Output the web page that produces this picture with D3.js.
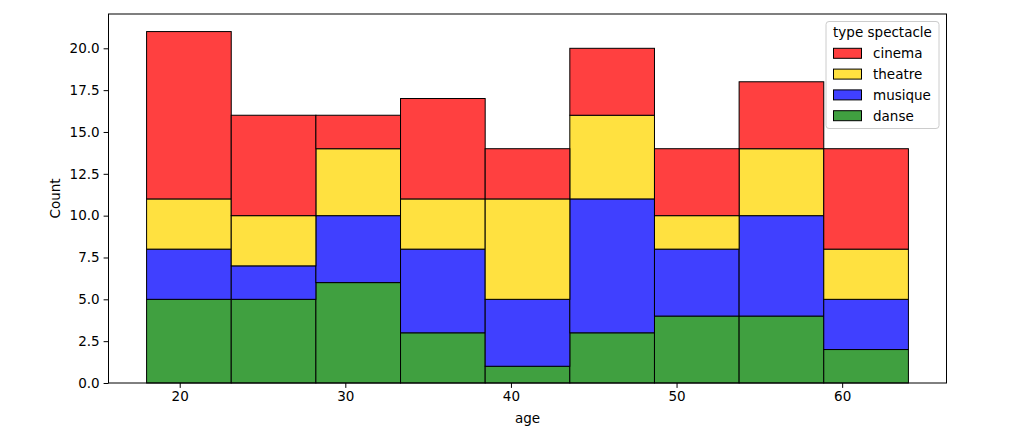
<!DOCTYPE html>
<html><head><meta charset="utf-8">
<script src="https://cdn.jsdelivr.net/npm/d3@7"></script>
<style>body{margin:0;background:#fff}svg{display:block}text{font-family:"DejaVu Sans",sans-serif;fill:#000}</style>
</head><body><svg id="c" width="1036" height="433"></svg>
<script>
const binEdges = [18, 64];
const nBins = 9;
const series = ["danse", "musique", "theatre", "cinema"];
const danse   = [5, 5, 6, 3, 1, 3, 4, 4, 2];
const musique = [3, 2, 4, 5, 4, 8, 4, 6, 3];
const theatre = [3, 3, 4, 3, 6, 5, 2, 4, 3];
const cinema  = [10, 6, 2, 6, 3, 4, 4, 4, 6];
const colors = {cinema: "#ff4040", theatre: "#ffe140", musique: "#4040ff", danse: "#40a040"};
const legendOrder = ["cinema", "theatre", "musique", "danse"];
const xTicks = [20, 30, 40, 50, 60];
const yTicks = [0, 2.5, 5, 7.5, 10, 12.5, 15, 17.5, 20];

const values = {danse, musique, theatre, cinema};
const svg = d3.select("#c");
const L = 108.5, R = 946.5, T = 14, B = 383;
const bw = (binEdges[1] - binEdges[0]) / nBins;
const span = binEdges[1] - binEdges[0];
const x = d3.scaleLinear().domain([binEdges[0] - span * 0.05, binEdges[1] + span * 0.05]).range([L, R]);
const rows = d3.range(nBins).map(i => {
  const o = {x0: binEdges[0] + i * bw, x1: binEdges[0] + (i + 1) * bw};
  series.forEach(s => o[s] = values[s][i]);
  return o;
});
const stack = d3.stack().keys(series)(rows);
const ymax = d3.max(stack[stack.length - 1], d => d[1]);
const y = d3.scaleLinear().domain([0, ymax * 1.05]).range([B, T]);

const g = svg.append("g");
stack.forEach(layer => {
  g.selectAll(null).data(layer).enter().append("rect")
    .attr("x", d => x(d.data.x0)).attr("width", d => x(d.data.x1) - x(d.data.x0))
    .attr("y", d => y(d[1])).attr("height", d => y(d[0]) - y(d[1]))
    .attr("fill", colors[layer.key]).attr("stroke", "#000").attr("stroke-width", 1);
});

const fs = "13.5px";
const xa = svg.append("g").attr("transform", `translate(0,${B})`)
  .call(d3.axisBottom(x).tickValues(xTicks).tickSize(4.9).tickPadding(4).tickFormat(d3.format("d")));
const ya = svg.append("g").attr("transform", `translate(${L},0)`)
  .call(d3.axisLeft(y).tickValues(yTicks).tickSize(4.9).tickPadding(4).tickFormat(d3.format(".1f")));
[xa, ya].forEach(a => {
  a.select(".domain").remove();
  a.selectAll("line").attr("stroke", "#000").attr("stroke-width", 1);
  a.selectAll("text").style("font-size", fs).attr("font-family", "DejaVu Sans").attr("fill", "#000");
});
svg.append("rect").attr("x", L).attr("y", T).attr("width", R - L).attr("height", B - T)
  .attr("fill", "none").attr("stroke", "#000").attr("stroke-width", 1);

svg.append("text").attr("x", (L + R) / 2).attr("y", 423).attr("text-anchor", "middle").style("font-size", fs).text("age");
svg.append("text").attr("transform", `translate(60,${(T + B) / 2}) rotate(-90)`).attr("text-anchor", "middle").style("font-size", fs).text("Count");

// legend
const lg = svg.append("g");
lg.append("rect").attr("x", 826).attr("y", 21.5).attr("width", 113).attr("height", 107).attr("rx", 3)
  .attr("fill", "#fff").attr("fill-opacity", 0.8).attr("stroke", "#ccc").attr("stroke-width", 1);
lg.append("text").attr("x", 882.5).attr("y", 37).attr("text-anchor", "middle").style("font-size", fs).text("type spectacle");
legendOrder.forEach((k, i) => {
  const cy = 53.3 + i * 20.8;
  lg.append("rect").attr("x", 833.5).attr("y", cy - 5).attr("width", 28).attr("height", 10)
    .attr("fill", colors[k]).attr("stroke", "#000").attr("stroke-width", 1);
  lg.append("text").attr("x", 873).attr("y", cy + 5).style("font-size", fs).text(k);
});
</script></body></html>
